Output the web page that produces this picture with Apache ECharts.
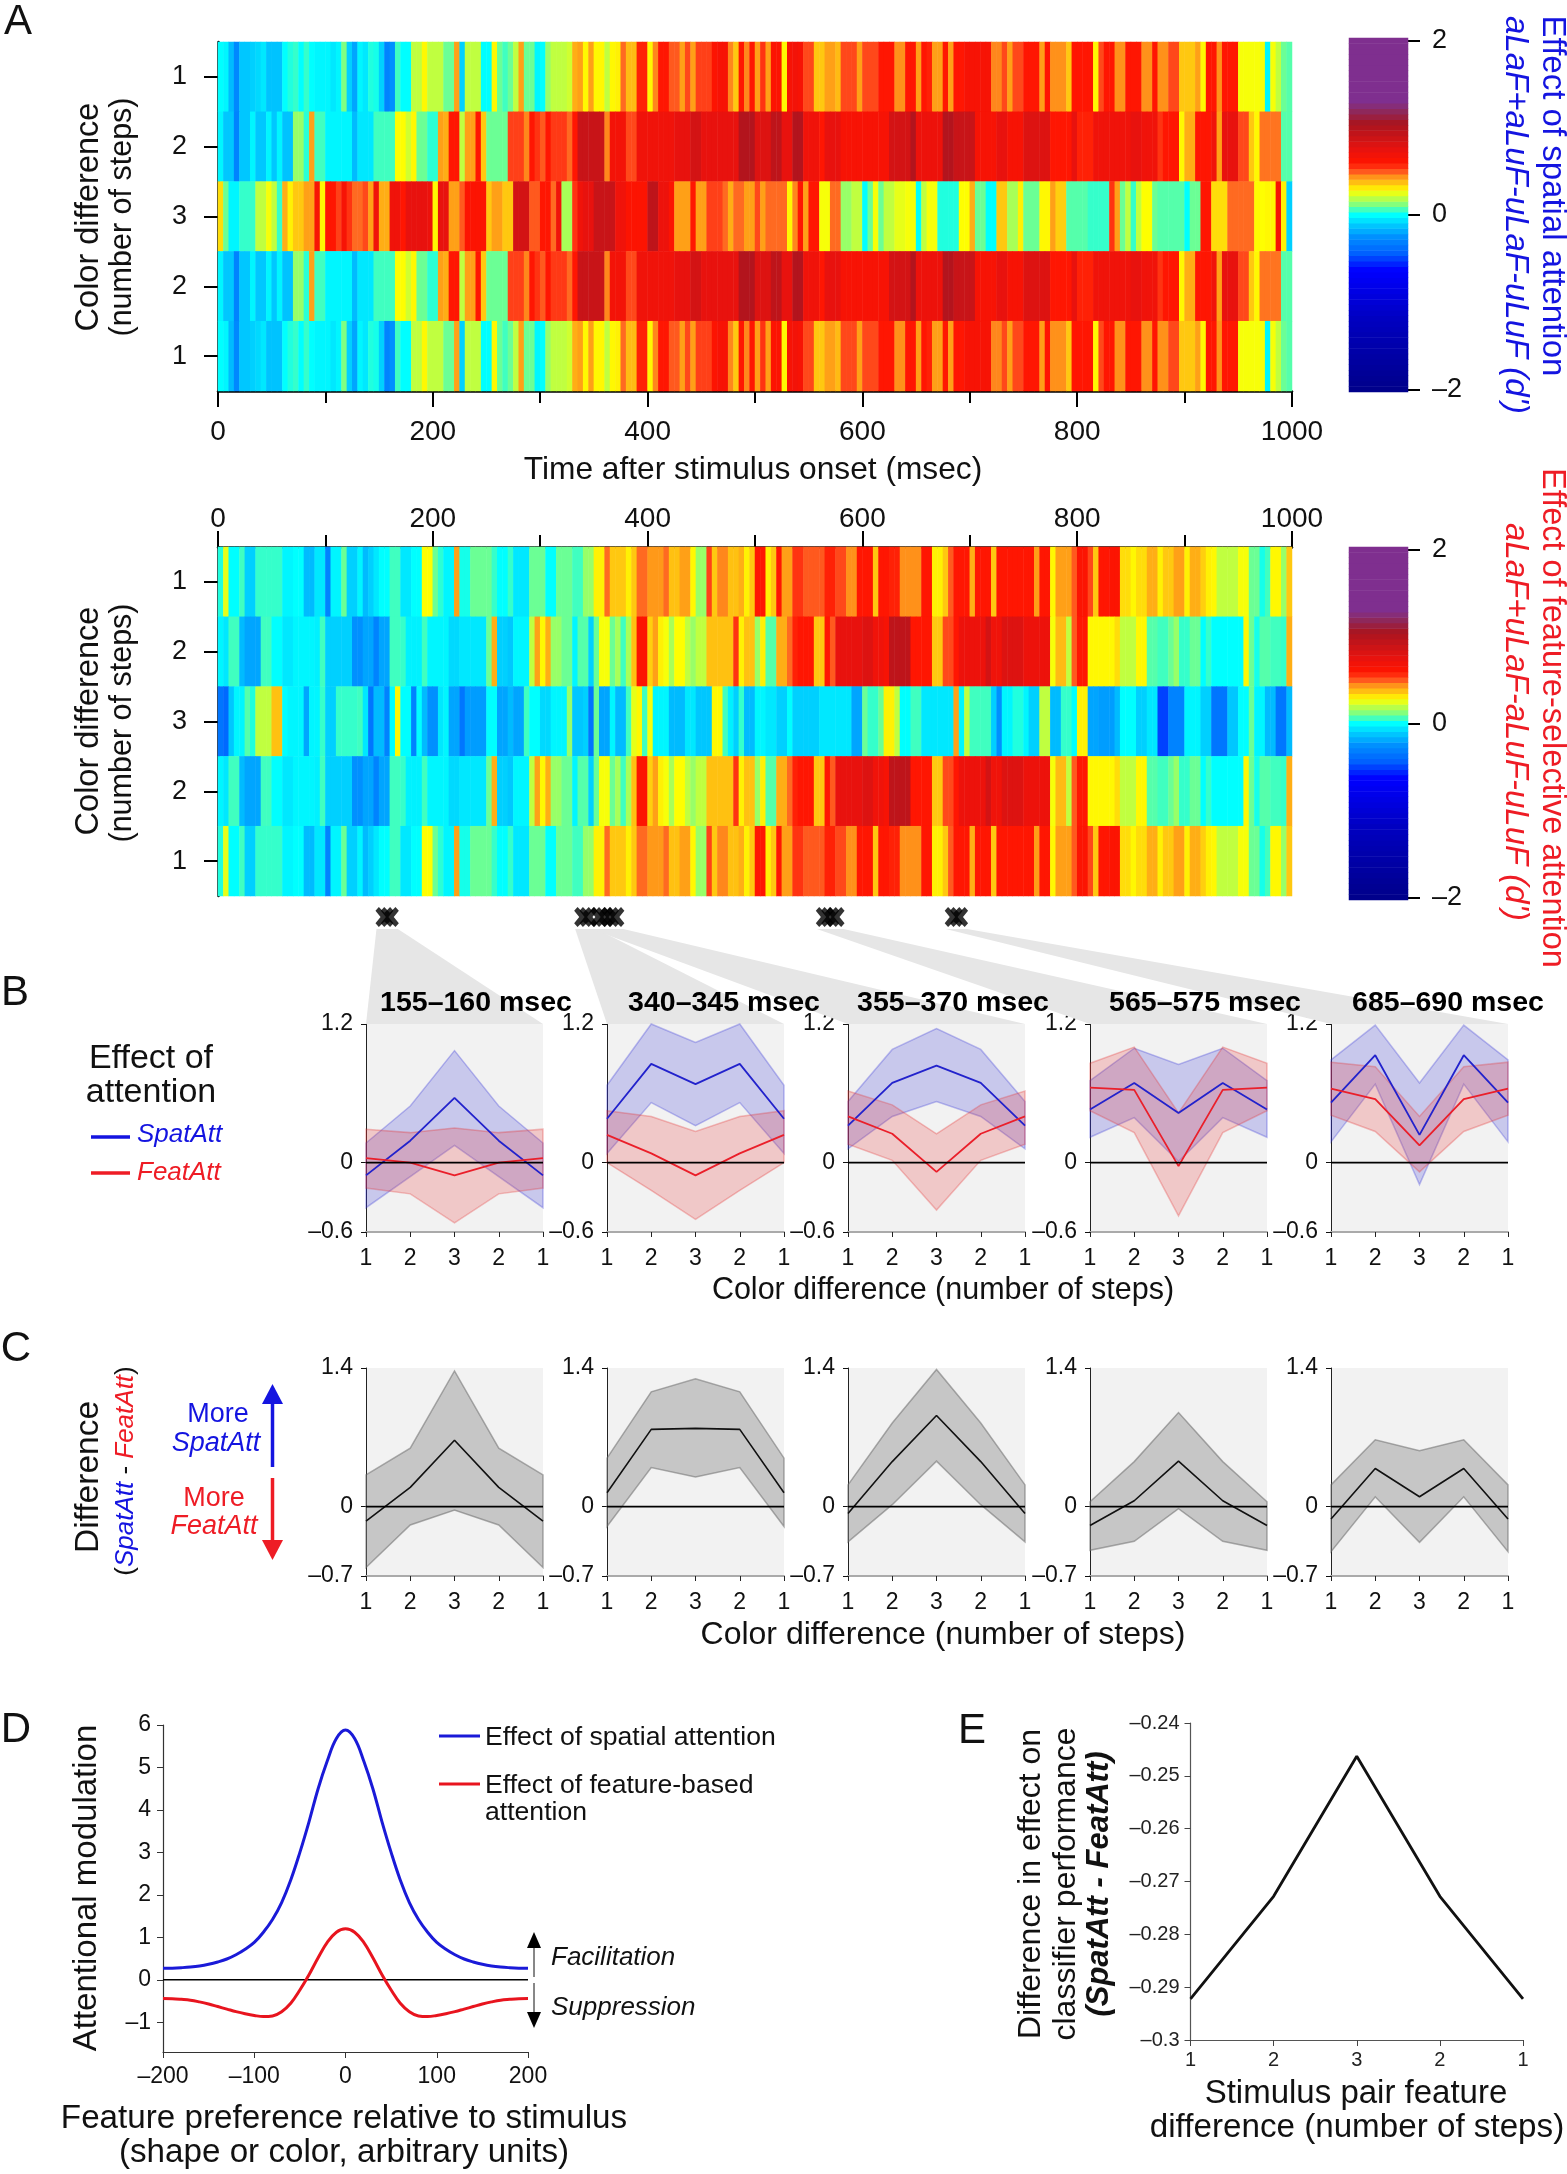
<!DOCTYPE html>
<html><head><meta charset="utf-8">
<style>html,body{margin:0;padding:0;background:#fff}#c{width:1567px;height:2174px}</style>
<script src="https://cdn.jsdelivr.net/npm/echarts@6/dist/echarts.min.js"></script>
</head><body><div id="c"></div>
<script>
const spatRow1=[0,-.02,-.15,-.28,-.12,-.12,-.1,-.08,-.05,-.13,-.13,-.13,0,.03,.05,0,.05,0,-.02,-.02,-.02,-.05,-.02,.12,-.1,-.2,-.02,-.05,.03,.02,-.1,-.3,-.25,.06,0,0,.2,.2,.29,.2,.2,.2,.1,.1,.42,-.1,.2,.2,.2,0,0,.29,.1,.06,.1,.2,.42,.1,.1,-.02,0,.15,.2,.2,.2,.22,.4,.42,.29,.42,.29,.29,.2,.29,.3,.48,.38,.38,.58,.58,.29,.45,.6,.6,.5,.5,.42,.52,.42,.53,.53,.53,.62,.65,.65,.45,.36,.6,.45,.6,
.42,.55,.42,.62,.62,.29,.65,.68,.65,.52,.52,.36,.36,.42,.42,.38,.52,.52,.52,.42,.52,.52,.52,.6,.6,.6,.44,.44,.6,.6,.42,.6,.58,.42,.42,.6,.42,.6,.6,.65,.65,.65,.65,.65,.45,.45,.52,.42,.52,.52,.6,.6,.6,.42,.6,.44,.44,.44,.36,.6,.6,.6,.6,.29,.52,.6,.6,.44,.44,.6,.6,.6,.44,.44,.6,.44,.44,.52,.52,.36,.36,.36,.42,.29,.6,.6,.44,.6,.6,.6,.27,.27,.27,.27,.27,-.02,.27,.2,.1,.08];
const spatRow2=[-.02,-.12,-.12,-.3,-.12,-.12,-.02,-.12,-.12,-.02,-.12,-.02,-.13,-.13,.15,.15,.04,.42,.06,.06,-.02,-.02,-.02,-.02,-.02,-.15,-.05,-.05,-.05,.06,.06,.06,.06,.28,.28,.22,.29,.1,.1,.04,.04,.42,.4,.6,.6,.2,.42,.42,.6,.36,.1,.1,.1,.1,.53,.53,.53,.45,.6,.55,.5,.6,.54,.54,.54,.48,.6,.9,.9,.9,.9,.9,.45,.68,.68,.68,.52,.52,.7,.7,.7,.7,.7,.7,.7,.75,.75,.75,.85,.85,.75,.75,.75,.75,.75,.75,.75,1,1,1,
.8,.8,.8,.95,.95,.75,.75,1,1,.7,.7,.7,.6,.75,.75,.75,.65,.65,.65,.65,.65,.65,.65,.65,.65,.85,.85,.85,.85,1,.72,.72,.72,.72,.72,1,1,.9,.9,.9,.9,.65,.65,.65,.65,.75,.75,.65,.65,.65,.8,.8,.8,.8,.8,.6,.6,.6,.6,.75,.58,.58,.58,.7,.7,.7,.7,.7,.7,.7,.75,.75,.7,.7,.7,.55,.6,.6,.6,.29,.4,.4,.6,.6,.6,.7,.42,.75,.75,.75,.52,.52,.36,.29,.47,.47,.47,.47,.08,.08];
const spatRow3=[.33,.1,-.02,-.02,.05,.05,.05,.2,.2,.27,.2,.05,.4,.3,.36,.36,.42,.42,.65,.29,.6,.6,.53,.65,.55,.48,.48,.52,.42,.7,.4,.4,.7,.7,.6,.75,.75,.75,.75,.72,.29,.75,.75,.42,.42,.5,.62,.62,.62,.62,.36,.42,.42,.36,.36,.85,.85,.85,.5,.5,.6,.6,.48,.7,.17,.17,.55,.7,.75,.75,.9,.9,.9,.9,.7,.7,.62,.62,.62,.62,.95,.95,.72,.72,.62,.42,.42,.42,.6,.42,.42,.53,.53,.53,.48,.4,.48,.48,.42,.42,
.52,.42,.48,.48,.48,.48,.29,.45,.6,.42,.6,.6,.27,.27,.48,.48,.15,.15,.2,.2,0,.1,.27,.1,.2,.2,.25,.25,.27,.27,0,.2,.27,.27,.03,.03,.03,.03,.28,.28,.4,.1,.1,0,0,.36,.36,.17,.17,.3,.1,.1,.1,.29,.29,.42,.35,.35,.08,.08,.08,.08,.05,.05,.05,.05,.55,.42,.1,.2,.05,.2,.28,.28,.1,.08,.08,.08,.08,.08,0,.1,.1,.6,.6,.33,.33,.33,.48,.48,.48,.48,.48,.28,.28,.29,.29,.65,.3,-.1];
const featRow1=[.03,.25,0,0,.06,-.1,-.1,.05,.05,.05,.05,.05,-.02,-.02,0,0,-.15,-.15,-.05,-.05,-.3,-.02,-.02,.1,-.1,-.1,-.02,-.15,-.1,-.05,0,0,.06,.06,-.05,-.05,0,0,.28,.28,.1,.04,-.02,-.02,.42,.02,.02,.1,.1,.1,.1,.05,0,0,.05,-.05,-.05,-.05,.1,.1,.1,0,0,.1,.1,.1,.06,.06,.15,.15,.3,.3,.48,.36,.36,.36,.3,.36,.48,.48,.43,.43,.43,.48,.37,.37,.42,.42,.29,.15,.15,.53,.36,.45,.45,.37,.37,.4,.3,.36,
.6,.6,.3,.36,.6,.42,.42,.55,.55,.5,.5,.5,.5,.58,.58,.52,.52,.44,.44,.6,.6,.6,.36,.6,.6,.58,.58,.44,.44,.44,.44,.6,.6,.3,.3,.36,.5,.6,.6,.6,.4,.6,.6,.6,.36,.6,.6,.6,.6,.6,.6,.6,.42,.6,.6,.29,.42,.42,.42,.5,.62,.62,.52,.36,.6,.6,.62,.62,.33,.33,.29,.33,.33,.4,.4,.3,.36,.36,.42,.42,.3,.4,.4,.35,.3,.29,.2,.2,.2,.2,.27,.27,.1,.1,.02,.06,.29,.29,.15,.36];
const featRow2=[-.02,-.05,.06,.06,-.15,-.2,-.2,-.2,.06,.06,0,0,-.05,-.05,-.02,-.02,-.02,-.02,-.03,.06,-.1,-.1,-.1,-.1,-.1,-.25,-.25,-.2,-.2,-.3,-.2,-.2,.06,.06,.05,-.03,-.03,-.03,.06,-.02,-.02,-.02,-.02,-.08,-.08,-.05,-.05,-.05,-.05,-.05,.1,.4,-.1,-.1,-.12,-.02,-.02,-.02,.2,.42,.29,.4,.15,.15,.1,.1,-.02,.08,.08,-.1,.1,.27,.27,.1,.17,.06,.17,.37,.62,.62,.35,.42,.3,.27,.17,.28,.28,.2,.15,.2,.2,.37,.37,.37,.37,.37,.55,.3,.37,.37,
.15,.3,.08,.08,.4,.4,.48,.58,.6,.6,.6,.36,.36,.6,.5,.75,.75,.75,.75,.75,.8,.8,.7,.7,.65,.95,.95,.95,.95,.6,.6,.6,.6,.36,.36,.52,.52,.6,.72,.72,.72,.72,.72,.85,.7,.7,.8,.8,.8,.8,.72,.72,.72,.72,.72,.27,.38,.38,.2,.5,.6,.6,.29,.29,.29,.29,.29,.33,.2,.2,.2,.29,.29,.08,.08,.06,.06,.1,.15,.05,.05,.1,.1,0,.05,0,0,0,0,0,0,.29,.1,.02,.08,.08,.06,.06,.05,.4];
const featRow3=[-.35,-.4,-.12,-.02,-.02,.08,.03,.2,.2,.2,.37,.37,0,-.02,-.02,-.02,-.2,-.02,-.02,.05,-.1,-.1,.05,.05,.05,.05,.06,-.05,-.35,-.15,-.15,-.3,0,.29,0,0,-.3,0,-.15,-.25,-.25,-.05,-.02,-.2,-.2,-.35,-.22,-.22,-.22,-.22,0,0,-.2,-.2,-.15,-.2,-.2,.06,0,0,-.08,-.08,-.02,-.02,-.02,.15,-.12,-.12,-.1,-.35,.1,-.2,-.2,-.02,-.15,-.15,.06,.25,.29,.06,.27,-.02,-.02,-.02,-.15,-.15,-.15,-.05,-.05,-.12,-.12,-.12,.29,.29,.06,-.03,-.1,.05,-.15,-.15,
-.02,-.02,-.05,-.05,-.1,-.1,0,-.1,-.1,-.1,-.1,-.1,-.05,-.05,-.05,-.05,-.05,-.05,-.2,-.2,.1,.05,.05,.1,.3,.3,.2,0,0,.06,.06,-.05,-.05,-.05,-.05,-.05,-.05,.42,-.02,.2,.06,.06,.06,.06,-.1,-.25,-.02,-.02,.03,.03,-.02,-.1,-.1,.2,.2,-.15,-.15,.05,.05,0,.3,.3,-.2,-.2,-.22,-.22,-.22,-.15,0,0,0,-.1,-.1,-.05,-.05,-.5,-.5,-.3,-.3,-.3,-.02,-.02,-.02,-.1,-.1,-.35,-.35,-.35,-.12,-.12,0,0,.1,-.02,-.02,-.15,-.15,-.35,-.35,-.15];
const rowLabels=['1','2','3','2','1'];
const starMsec=[155,160,340,345,355,360,365,370,565,570,575,685,690];
const windowMsec=[[155,160],[340,345],[355,370],[565,575],[685,690]];
const windowTitles=['155\u2013160 msec','340\u2013345 msec','355\u2013370 msec','565\u2013575 msec','685\u2013690 msec'];
// panel B: values at steps 1,2,3 (profiles are mirrored around step 3)
const spatMean=[[-.11,.19,.56],[.38,.855,.68],[.32,.69,.84],[.46,.69,.43],[.52,.93,.24]];
const spatHigh=[[.17,.49,.97],[.67,1.2,1.04],[.53,.98,1.16],[.71,.99,.85],[.89,1.19,.69]];
const spatLow=[[-.39,-.12,.15],[.08,.52,.32],[.12,.40,.53],[.22,.39,.01],[.18,.68,-.19]];
const featMean=[[.04,0,-.11],[.24,.08,-.11],[.40,.25,-.08],[.65,.63,-.03],[.64,.55,.15]];
const featHigh=[[.29,.26,.30],[.45,.40,.27],[.62,.50,.25],[.86,1.0,.43],[.87,.83,.40]];
const featLow=[[-.22,-.27,-.52],[0,-.24,-.49],[.16,.02,-.41],[.45,.26,-.46],[.41,.27,-.08]];
// panel C
const diffMean=[[-.145,.195,.67],[.14,.78,.79],[-.07,.455,.92],[-.19,.06,.46],[-.125,.385,.10]];
const diffHigh=[[.32,.59,1.37],[.49,1.16,1.29],[.22,.845,1.385],[.05,.455,.95],[.22,.675,.565]];
const diffLow=[[-.615,-.185,-.035],[-.2,.395,.30],[-.355,.02,.46],[-.44,-.35,-.02],[-.455,.10,-.36]];
// panel D: -200..200 every 10
const featPref=[-200,-190,-180,-170,-160,-150,-140,-130,-120,-110,-100,-90,-80,-70,-60,-50,-40,-30,-20,-10,0,10,20,30,40,50,60,70,80,90,100,110,120,130,140,150,160,170,180,190,200];
const modSpat=[.27,.275,.285,.30,.325,.365,.42,.49,.59,.72,.88,1.12,1.42,1.82,2.35,3.0,3.72,4.5,5.15,5.68,5.88,5.68,5.15,4.5,3.72,3.0,2.35,1.82,1.42,1.12,.88,.72,.59,.49,.42,.365,.325,.30,.285,.275,.27];
const modFeat=[-.44,-.445,-.46,-.48,-.52,-.57,-.63,-.69,-.75,-.8,-.84,-.865,-.85,-.75,-.55,-.24,.12,.52,.88,1.12,1.2,1.12,.88,.52,.12,-.24,-.55,-.75,-.85,-.865,-.84,-.8,-.75,-.69,-.63,-.57,-.52,-.48,-.46,-.445,-.44];
// panel E
const classDiff=[-.2922,-.2728,-.2463,-.2728,-.2922];
const colorStops=[[-2,'#00008b'],[-1.2,'#0000c0'],[-.63,'#0000ff'],[-.44,'#0060ff'],[-.25,'#0090ff'],[-.1,'#00d0ff'],[0,'#00ffff'],[.06,'#40ffc0'],[.12,'#80ff80'],[.2,'#c0ff40'],[.28,'#ffff00'],[.36,'#ffc810'],[.43,'#ff9a18'],[.48,'#ff6a22'],[.53,'#ff4018'],[.6,'#ff1400'],[.75,'#e8120e'],[.9,'#c81418'],[1.05,'#a8141f'],[1.2,'#8c2a60'],[1.3,'#7f2f8f'],[2,'#7f2f8f']];

const FF='Liberation Sans';
const mir=a=>[a[0],a[1],a[2],a[1],a[0]];
const hex=c=>[1,3,5].map(i=>parseInt(c.substr(i,2),16));
function cAt(v){for(let i=1;i<colorStops.length;i++){const [a,ca]=colorStops[i-1],[b,cb]=colorStops[i];if(v<=b){const t=(v-a)/(b-a),A=hex(ca),B=hex(cb);return 'rgb('+A.map((x,k)=>Math.round(x+(B[k]-x)*t)).join(',')+')';}}return colorStops[colorStops.length-1][1];}
const ramp=[];for(let i=0;i<=256;i++)ramp.push(cAt(-2+i/64));

const grid=[],xAxis=[],yAxis=[],series=[],heatIdx=[];
function addGrid(l,t,w,h,bg){grid.push({left:l,top:t,width:w,height:h,show:!!bg,backgroundColor:bg||'transparent',borderWidth:0,containLabel:false});return grid.length-1;}
function heat(top,rows,pos){
  const g=addGrid(218,top,1074,349);
  const cx=xAxis.length;
  xAxis.push({gridIndex:g,type:'category',show:false,data:rows[0].map((_,i)=>String(i*5))});
  const vx=xAxis.length;
  xAxis.push({gridIndex:g,type:'value',position:pos,min:0,max:1000,interval:200,splitLine:{show:false},
    axisLine:{show:true,onZero:false,lineStyle:{color:'#000',width:2.5}},
    axisTick:{show:true,length:16,lineStyle:{color:'#000',width:2}},
    minorTick:{show:true,splitNumber:2,length:12,lineStyle:{color:'#000',width:2}},minorSplitLine:{show:false},
    axisLabel:{fontFamily:FF,fontSize:28,color:'#111',margin:pos==='bottom'?27:14,showMinLabel:true,showMaxLabel:true,hideOverlap:false,formatter:v=>String(v)}});
  const y=yAxis.length;
  yAxis.push({gridIndex:g,type:'category',inverse:true,data:rowLabels,offset:2,
    axisLine:{show:true,lineStyle:{color:'#000',width:2.5}},
    axisTick:{show:true,alignWithLabel:true,length:14,lineStyle:{color:'#000',width:2}},
    axisLabel:{fontFamily:FF,fontSize:27,color:'#111',margin:29,interval:0},splitLine:{show:false}});
  const data=[];rows.forEach((r,ri)=>r.forEach((v,i)=>data.push([i,ri,v])));
  heatIdx.push(series.length);
  series.push({type:'heatmap',xAxisIndex:cx,yAxisIndex:y,data,silent:true,progressive:0,itemStyle:{borderWidth:0}});
  return {vx};
}
const hA=heat(42,[spatRow1,spatRow2,spatRow3,spatRow2,spatRow1],'bottom');
const hB=heat(547,[featRow1,featRow2,featRow3,featRow2,featRow1],'top');

// star markers below map B
const gS=addGrid(218,907,1074,20);
const starX=xAxis.length;
xAxis.push({gridIndex:gS,type:'value',show:false,min:0,max:1000});
const starY=yAxis.length;
yAxis.push({gridIndex:gS,type:'value',show:false,min:0,max:1});
series.push({type:'scatter',xAxisIndex:starX,yAxisIndex:starY,silent:true,data:starMsec.map(m=>[m,.5]),
  symbol:'path://M0 3 L3 0 L8 4.5 L13 0 L16 3 L11.5 8 L16 13 L13 16 L8 11.5 L3 16 L0 13 L4.5 8 Z',symbolSize:[18,20],itemStyle:{color:'#000'}});

// colour bars
function cbar(top,h){
  const g=addGrid(1349,top,59,h);
  const lv=[];for(let i=0;i<=64;i++)lv.push(-2+i/16);
  xAxis.push({gridIndex:g,type:'category',show:false,data:['c']});
  yAxis.push({gridIndex:g,type:'category',position:'right',data:lv.map(String),
    axisLine:{show:false},splitLine:{show:false},
    axisTick:{show:true,alignWithLabel:true,length:12,interval:i=>i%32===0,lineStyle:{color:'#000',width:2}},
    axisLabel:{fontFamily:FF,fontSize:27,color:'#111',margin:24,interval:i=>i%32===0,formatter:v=>String(v).replace('-','\u2013')}});
  heatIdx.push(series.length);
  series.push({type:'heatmap',xAxisIndex:xAxis.length-1,yAxisIndex:yAxis.length-1,silent:true,progressive:0,data:lv.map((v,i)=>[0,i,v])});
}
cbar(38,354);cbar(547,353);

// small panels
const panelLeft=[366,607,848,1090,1331];
const panelW=177;
function smallAxes(g,ymin,ymax,ticks){
  xAxis.push({gridIndex:g,type:'value',min:0,max:4,interval:1,splitLine:{show:false},
    axisLine:{show:true,onZero:false,lineStyle:{color:'#aaa',width:2}},
    axisTick:{show:true,length:5,lineStyle:{color:'#222',width:1}},
    axisLabel:{fontFamily:FF,fontSize:23,color:'#111',margin:15,showMinLabel:true,showMaxLabel:true,hideOverlap:false,formatter:v=>rowLabels[v]}});
  yAxis.push({gridIndex:g,type:'value',min:ymin,max:ymax,splitLine:{show:false},
    axisLine:{show:true,onZero:false,lineStyle:{color:'#222',width:1}},
    axisTick:{show:true,length:5,customValues:ticks,lineStyle:{color:'#111',width:1}},
    axisLabel:{fontFamily:FF,fontSize:23,color:'#111',margin:13,customValues:ticks,showMinLabel:true,showMaxLabel:true,formatter:v=>String(v).replace('-','\u2013')}});
  return [xAxis.length-1,yAxis.length-1];
}
function band(ax,lo,hi,fill,stroke){
  const L=mir(lo),H=mir(hi);
  series.push({type:'custom',xAxisIndex:ax[0],yAxisIndex:ax[1],silent:true,clip:false,
    encode:{x:0,y:[1,2]},data:L.map((v,i)=>[i,v,H[i]]),
    renderItem:(p,api)=>{ if(p.dataIndex!==0) return;
      const pts=H.map((v,i)=>api.coord([i,v])).concat(L.map((v,i)=>api.coord([i,v])).reverse());
      return {type:'polygon',shape:{points:pts},style:{fill,stroke,lineWidth:1.5}};}});
}
function ln(ax,vals,color,w){
  series.push({type:'line',xAxisIndex:ax[0],yAxisIndex:ax[1],silent:true,symbol:'none',data:mir(vals).map((v,i)=>[i,v]),lineStyle:{color,width:w}});
}
function zero(ax){
  series.push({type:'line',xAxisIndex:ax[0],yAxisIndex:ax[1],silent:true,symbol:'none',z:5,data:[[0,0],[4,0]],lineStyle:{color:'#000',width:1.6}});
}
panelLeft.forEach((l,i)=>{
  const g=addGrid(l,1024,panelW,208,'#f2f2f2');
  const ax=smallAxes(g,-.6,1.2,[-.6,0,1.2]);
  band(ax,spatLow[i],spatHigh[i],'rgba(50,50,215,.22)','rgba(50,50,215,.3)');
  band(ax,featLow[i],featHigh[i],'rgba(230,50,50,.22)','rgba(230,50,50,.3)');
  ln(ax,spatMean[i],'#2222cc',1.8);
  zero(ax);
  ln(ax,featMean[i],'#ea1f2a',1.8);
});
panelLeft.forEach((l,i)=>{
  const g=addGrid(l,1368,panelW,208,'#f2f2f2');
  const ax=smallAxes(g,-.7,1.4,[-.7,0,1.4]);
  band(ax,diffLow[i],diffHigh[i],'rgba(110,110,110,.33)','rgba(110,110,110,.55)');
  zero(ax);
  ln(ax,diffMean[i],'#111',1.6);
});

// panel D
const gD=addGrid(163,1725,365,327);
xAxis.push({gridIndex:gD,type:'value',min:-200,max:200,interval:100,splitLine:{show:false},
  axisLine:{show:true,onZero:false,lineStyle:{color:'#333',width:1.2}},
  axisTick:{show:true,length:6,lineStyle:{color:'#333',width:1}},
  axisLabel:{fontFamily:FF,fontSize:23,color:'#111',margin:13,showMinLabel:true,showMaxLabel:true,hideOverlap:false,formatter:v=>String(v).replace('-','\u2013')}});
const dTicks=[-1,0,1,2,3,4,5,6];
yAxis.push({gridIndex:gD,type:'value',min:-1.7,max:6,splitLine:{show:false},
  axisLine:{show:true,onZero:false,lineStyle:{color:'#333',width:1.2}},
  axisTick:{show:true,length:6,customValues:dTicks,lineStyle:{color:'#333',width:1}},
  axisLabel:{fontFamily:FF,fontSize:23,color:'#111',margin:12,customValues:dTicks,formatter:v=>String(v).replace('-','\u2013')}});
const axD=[xAxis.length-1,yAxis.length-1];
series.push({type:'line',xAxisIndex:axD[0],yAxisIndex:axD[1],silent:true,symbol:'none',data:[[-200,0],[200,0]],lineStyle:{color:'#000',width:1.4}});
series.push({type:'line',xAxisIndex:axD[0],yAxisIndex:axD[1],silent:true,symbol:'none',smooth:.4,data:featPref.map((x,i)=>[x,modSpat[i]]),lineStyle:{color:'#1a1ad8',width:3}});
series.push({type:'line',xAxisIndex:axD[0],yAxisIndex:axD[1],silent:true,symbol:'none',smooth:.4,data:featPref.map((x,i)=>[x,modFeat[i]]),lineStyle:{color:'#e8141e',width:3}});

// panel E
const gE=addGrid(1190.5,1723,332.5,317);
xAxis.push({gridIndex:gE,type:'value',min:0,max:4,interval:1,splitLine:{show:false},
  axisLine:{show:true,onZero:false,lineStyle:{color:'#555',width:1.2}},
  axisTick:{show:true,length:6,lineStyle:{color:'#444',width:1}},
  axisLabel:{fontFamily:FF,fontSize:20,color:'#222',margin:10,showMinLabel:true,showMaxLabel:true,hideOverlap:false,formatter:v=>rowLabels[v]}});
const eTicks=[-.3,-.29,-.28,-.27,-.26,-.25,-.24];
yAxis.push({gridIndex:gE,type:'value',min:-.3,max:-.24,splitLine:{show:false},
  axisLine:{show:true,onZero:false,lineStyle:{color:'#555',width:1.2}},
  axisTick:{show:true,length:6,customValues:eTicks,lineStyle:{color:'#444',width:1}},
  axisLabel:{fontFamily:FF,fontSize:20,color:'#222',margin:11,customValues:eTicks,showMinLabel:true,showMaxLabel:true,formatter:v=>String(+v.toFixed(2)).replace('-','\u2013')}});
series.push({type:'line',xAxisIndex:xAxis.length-1,yAxisIndex:yAxis.length-1,silent:true,symbol:'none',data:classDiff.map((v,i)=>[i,v]),lineStyle:{color:'#111',width:2.8}});

const chart=echarts.init(document.getElementById('c'),null,{renderer:'canvas'});
chart.setOption({animation:false,backgroundColor:'#fff',grid,xAxis,yAxis,series,
  visualMap:{show:false,type:'continuous',min:-2,max:2,dimension:2,seriesIndex:heatIdx,inRange:{color:ramp}}});

// graphic layer: text, arrows, funnels
const g=[];
function T(text,x,y,size,o){o=o||{};
  g.push({type:'text',x,y,rotation:o.rot||0,z:50,silent:true,style:{text,fontFamily:FF,fontSize:size,fontStyle:o.it?'italic':'normal',fontWeight:o.b?'bold':'normal',fill:o.c||'#111',align:o.al||'center',verticalAlign:'middle',rich:o.rich}});
}
const R=Math.PI/2;
function L(x1,y1,x2,y2,c,w){g.push({type:'line',z:50,silent:true,shape:{x1,y1,x2,y2},style:{stroke:c,lineWidth:w}});}
function P(points,c,z){g.push({type:'polygon',z:z||50,silent:true,shape:{points},style:{fill:c}});}
windowMsec.forEach((w,i)=>{
  const a=chart.convertToPixel({xAxisIndex:starX},w[0])-8,b=chart.convertToPixel({xAxisIndex:starX},w[1])+8;
  P([[a,929],[b,929],[panelLeft[i]+panelW,1024],[panelLeft[i],1024]],'#e6e6e6',1);
  T(windowTitles[i],[476,724,953,1205,1448][i],1003,28.5,{b:true,c:'#000'});
});
[['A',18,22],['B',15,993],['C',16,1349],['D',16,1730],['E',972,1731]].forEach(a=>T(a[0],a[1],a[2],42,{c:'#111'}));
// panel A text
T('Color difference',89,217,32.5,{rot:R});T('(number of steps)',123,217,30.5,{rot:R});
T('Color difference',89,721,32.5,{rot:R});T('(number of steps)',123,723,30.5,{rot:R});
T('Time after stimulus onset (msec)',753,470,31.7);
T('Effect of spatial attention',1552,196,33,{rot:-R,c:'#1414e0'});
T("aLaF+aLuF-uLaF-uLuF (d')",1515,215,33,{rot:-R,c:'#1414e0',it:true});
T('Effect of feature-selective attention',1552,718,32.5,{rot:-R,c:'#ee1c25'});
T("aLaF+uLaF-aLuF-uLuF (d')",1515,722,33,{rot:-R,c:'#ee1c25',it:true});
// panel B text
T('Effect of',151,1059,34);T('attention',151,1093,34);
L(91,1137,130,1137,'#1414e0',3.5);T('SpatAtt',137,1135,26,{al:'left',it:true,c:'#1414e0'});
L(91,1173,130,1173,'#ee1c25',3.5);T('FeatAtt',137,1173,26,{al:'left',it:true,c:'#ee1c25'});
T('Color difference (number of steps)',943,1291,30.5);
// panel C text
T('Difference',89,1477,33.5,{rot:R});
T('{k|(}{a|SpatAtt}{k| - }{b|FeatAtt}{k|)}',126,1471,26,{rot:R,rich:{
  a:{fill:'#1414e0',fontStyle:'italic',fontSize:26,fontFamily:FF},k:{fill:'#111',fontSize:26,fontFamily:FF},b:{fill:'#ee1c25',fontStyle:'italic',fontSize:26,fontFamily:FF}}});
T('More',218,1415,27,{c:'#1414e0'});T('SpatAtt',216,1443,27,{it:true,c:'#1414e0'});
T('More',214,1499,27,{c:'#ee1c25'});T('FeatAtt',214,1526,27,{it:true,c:'#ee1c25'});
L(272.5,1467,272.5,1400,'#1414e0',3.5);P([[272.5,1384],[283,1404],[262,1404]],'#1414e0');
L(272.5,1478,272.5,1544,'#ee1c25',3.5);P([[272.5,1560],[283,1540],[262,1540]],'#ee1c25');
T('Color difference (number of steps)',943,1635,32);
// panel D text
L(439,1736,480,1736,'#1a1ad8',3);T('Effect of spatial attention',485,1738,26.6,{al:'left'});
L(439,1784,480,1784,'#e8141e',3);T('Effect of feature-based',485,1786,26.6,{al:'left'});T('attention',485,1813,26.6,{al:'left'});
L(534,1977,534,1945,'#111',1);P([[534,1932],[541,1948],[527,1948]],'#000');
L(534,1983,534,2015,'#111',1);P([[534,2028],[541,2012],[527,2012]],'#000');
T('Facilitation',551,1958,26,{al:'left',it:true});T('Suppression',551,2008,26,{al:'left',it:true});
T('Attentional modulation',87,1888,33,{rot:R});
T('Feature preference relative to stimulus',344,2119,33.2);
T('(shape or color, arbitrary units)',344,2153,33.2);
// panel E text
T('Difference in effect on',1031,1884,32,{rot:R});
T('classifier performance',1066,1884,32,{rot:R});
T('(SpatAtt - FeatAtt)',1099,1884,31,{rot:R,b:true,it:true});
T('Stimulus pair feature',1356,2094,33);
T('difference (number of steps)',1357,2128,33.2);
chart.setOption({graphic:{elements:g}});
</script></body></html>
